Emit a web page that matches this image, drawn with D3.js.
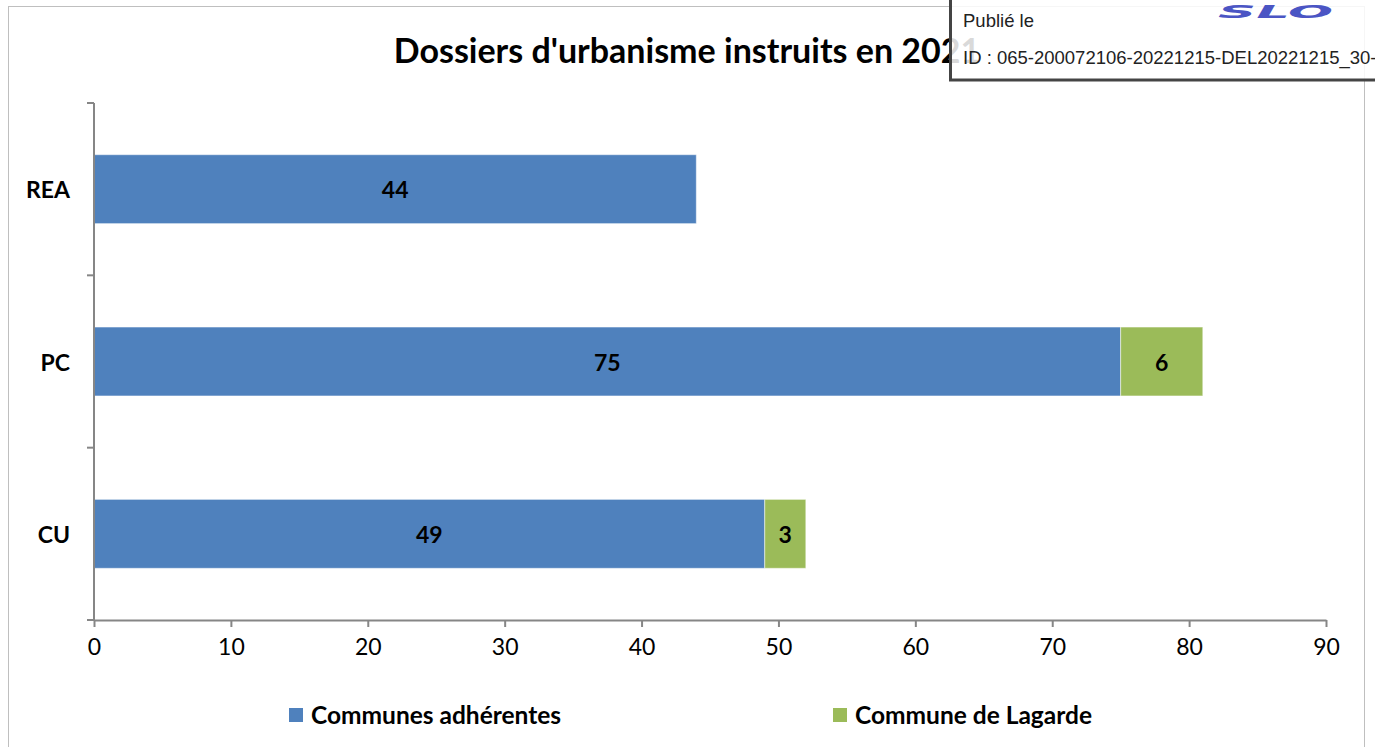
<!DOCTYPE html>
<html>
<head>
<meta charset="utf-8">
<script src="https://cdn.jsdelivr.net/npm/d3@7"></script>
<style>
  body { margin: 0; background: #fff; }
  svg { display: block; }
</style>
</head>
<body>
<div id="container"></div>
<script>
/* CONSTANTS AND GLOBALS */
const width = 1375;
const height = 747;
const margin = { top: 103, right: 49, bottom: 127, left: 94 };

/* DATA */
const categories = ["REA", "PC", "CU"];
const seriesNames = ["Communes adhérentes", "Commune de Lagarde"];
const adherentes = [44, 75, 49];
const lagarde = [0, 6, 3];
const xTicks = [0, 10, 20, 30, 40, 50, 60, 70, 80, 90];
const colors = ["#4f81bd", "#9bbb59"];

const rows = categories.map((c, i) => ({ cat: c, a: adherentes[i], b: lagarde[i] }));

const svg = d3.select("#container")
  .append("svg")
  .attr("width", width)
  .attr("height", height);

// chart frame
svg.append("rect")
  .attr("x", 8.5).attr("y", 6.5)
  .attr("width", 1356).attr("height", 760)
  .attr("fill", "#fff")
  .attr("stroke", "#bfbfbf");

svg.append("text")
  .attr("x", 687).attr("y", 63)
  .attr("text-anchor", "middle")
  .attr("font-family", "Lato")
  .attr("font-weight", "bold")
  .attr("font-size", 34)
  .text("Dossiers d'urbanisme instruits en 2021");

const xScale = d3.scaleLinear()
  .domain([0, 90])
  .range([margin.left, width - margin.right]);

const yScale = d3.scaleBand()
  .domain(categories)
  .range([margin.top, height - margin.bottom])
  .paddingInner(0.6)
  .paddingOuter(0.3);

const stack = d3.stack().keys(["a", "b"])(rows);

const layer = svg.selectAll(".layer")
  .data(stack)
  .join("g")
  .attr("class", "layer")
  .attr("fill", (d, i) => colors[i]);

layer.selectAll("rect")
  .data(d => d.filter(p => p[1] - p[0] > 0))
  .join("rect")
  .attr("x", d => xScale(d[0]))
  .attr("y", d => yScale(d.data.cat))
  .attr("width", d => xScale(d[1]) - xScale(d[0]))
  .attr("height", yScale.bandwidth())
  .attr("stroke", "#fff")
  .attr("stroke-opacity", 0.5);

layer.selectAll("text")
  .data(d => d.filter(p => p[1] - p[0] > 0))
  .join("text")
  .attr("x", d => (xScale(d[0]) + xScale(d[1])) / 2)
  .attr("y", d => yScale(d.data.cat) + yScale.bandwidth() / 2 + 9)
  .attr("text-anchor", "middle")
  .attr("fill", "#000")
  .attr("font-family", "Lato")
  .attr("font-weight", "bold")
  .attr("font-size", 23)
  .text(d => d[1] - d[0]);

// x axis
const xAxis = d3.axisBottom(xScale).tickValues(xTicks).tickSize(7).tickSizeOuter(0);
const gx = svg.append("g")
  .attr("transform", `translate(0, ${height - margin.bottom})`)
  .call(xAxis);
gx.select(".domain").attr("stroke", "#868686").attr("stroke-width", 2);
gx.selectAll(".tick line").attr("stroke", "#868686").attr("stroke-width", 2);
gx.selectAll(".tick text")
  .attr("dy", 0).attr("y", 35)
  .attr("font-family", "Lato")
  .attr("font-size", 23)
  .attr("fill", "#000");

// y axis: ticks at band boundaries
const yEdges = [margin.top, ...categories.slice(1).map(c => yScale(c) - yScale.step() * yScale.paddingInner() / 2), height - margin.bottom];
const gy = svg.append("g");
gy.append("line")
  .attr("x1", margin.left).attr("x2", margin.left)
  .attr("y1", margin.top).attr("y2", height - margin.bottom)
  .attr("stroke", "#868686").attr("stroke-width", 2);
gy.selectAll(".ytick")
  .data(yEdges)
  .join("line")
  .attr("class", "ytick")
  .attr("x1", margin.left - 7).attr("x2", margin.left)
  .attr("y1", d => d).attr("y2", d => d)
  .attr("stroke", "#868686").attr("stroke-width", 2);
gy.selectAll(".ylab")
  .data(categories)
  .join("text")
  .attr("class", "ylab")
  .attr("x", 70)
  .attr("y", d => yScale(d) + yScale.bandwidth() / 2 + 9)
  .attr("text-anchor", "end")
  .attr("font-family", "Lato")
  .attr("font-weight", "bold")
  .attr("font-size", 23)
  .text(d => d);

// legend
const legendX = [289, 833];
const legend = svg.selectAll(".legend")
  .data(seriesNames)
  .join("g")
  .attr("class", "legend")
  .attr("transform", (d, i) => `translate(${legendX[i]}, 708)`);
legend.append("rect")
  .attr("width", 14).attr("height", 14)
  .attr("fill", (d, i) => colors[i]);
legend.append("text")
  .attr("x", 22).attr("y", 16)
  .attr("font-family", "Lato")
  .attr("font-weight", "bold")
  .attr("font-size", 24.5)
  .text(d => d);

// publication stamp
const stamp = svg.append("g");
stamp.append("rect")
  .attr("x", 950.5).attr("y", -3)
  .attr("width", 440).attr("height", 83)
  .attr("fill", "#fff").attr("fill-opacity", 0.85)
  .attr("stroke", "#444").attr("stroke-width", 3);
stamp.append("text")
  .attr("x", 963).attr("y", 27)
  .attr("font-family", "Liberation Sans")
  .attr("font-size", 18.5)
  .attr("fill", "#222")
  .text("Publié le");
stamp.append("text")
  .attr("x", 963).attr("y", 64)
  .attr("font-family", "Liberation Sans")
  .attr("font-size", 18.5)
  .attr("fill", "#222")
  .text("ID : 065-200072106-20221215-DEL20221215_30-");
stamp.append("text")
  .attr("x", 1218).attr("y", 18)
  .attr("font-family", "DejaVu Sans")
  .attr("font-weight", "bold")
  .attr("font-style", "italic")
  .attr("font-size", 17)
  .attr("textLength", 115)
  .attr("lengthAdjust", "spacingAndGlyphs")
  .attr("fill", "#4b55c4")
  .text("SLO");
</script>
</body>
</html>
